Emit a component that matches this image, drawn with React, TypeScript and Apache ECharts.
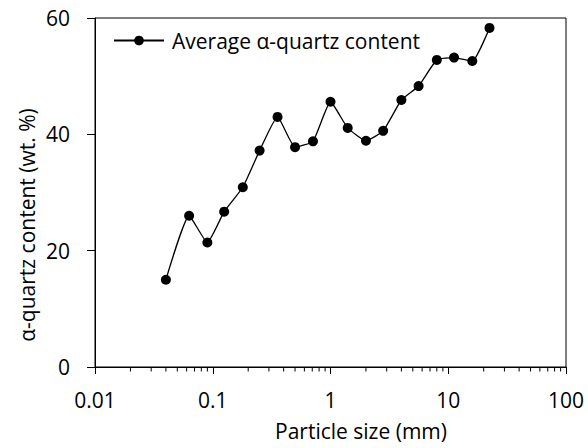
import React, { useEffect, useRef } from "react";
import * as echarts from "echarts";

const sizes = [0.04, 0.063, 0.09, 0.125, 0.18, 0.25, 0.355, 0.5, 0.71, 1, 1.4, 2, 2.8, 4, 5.6, 8, 11.2, 16, 22.4];
const quartz = [15.0, 26.0, 21.4, 26.7, 30.9, 37.2, 43.0, 37.8, 38.8, 45.6, 41.1, 38.9, 40.6, 45.9, 48.3, 52.8, 53.2, 52.6, 58.3];
const xTickValues = [0.01, 0.1, 1, 10, 100];
const xTickLabels = ["0.01", "0.1", "1", "10", "100"];
const minorTickValues = [
  0.02, 0.03, 0.04, 0.05, 0.06, 0.07, 0.08, 0.09,
  0.2, 0.3, 0.4, 0.5, 0.6, 0.7, 0.8, 0.9,
  2, 3, 4, 5, 6, 7, 8, 9,
  20, 30, 40, 50, 60, 70, 80, 90,
];
const seriesName = "Average α-quartz content";
const xName = "Particle size (mm)";
const yName = "α-quartz content (wt. %)";

const FONT = "'Open Sans', sans-serif";
const FS = 21;

export default function App() {
  const ref = useRef<HTMLDivElement>(null);
  useEffect(() => {
    if (!ref.current) return;
    const chart = echarts.init(ref.current, null, { renderer: "svg" });
    chart.setOption({
      animation: false,
      backgroundColor: "#fff",
      textStyle: { fontFamily: FONT },
      grid: {
        left: 95,
        right: 22,
        top: 18,
        bottom: 81,
        show: true,
        borderColor: "#000",
        borderWidth: 1,
        containLabel: false,
      },
      legend: {
        show: true,
        left: 113,
        top: 30,
        padding: 0,
        itemWidth: 50,
        itemHeight: 12,
        itemGap: 0,
        data: [seriesName],
        textStyle: { fontFamily: FONT, fontSize: FS, color: "#000", padding: [0, 0, 0, 3] },
      },
      xAxis: {
        type: "log",
        logBase: 10,
        min: 0.01,
        max: 100,
        axisLine: { show: true, onZero: false, lineStyle: { color: "#000", width: 1 } },
        axisTick: { show: true, inside: false, length: 7, lineStyle: { color: "#000" } },
        minorTick: { show: false },
        splitLine: { show: false },
        axisLabel: {
          fontFamily: FONT,
          fontSize: FS,
          color: "#000",
          margin: 22,
          formatter: (v: number) => {
            const i = xTickValues.findIndex((t) => Math.abs(Math.log10(t) - Math.log10(v)) < 1e-6);
            return i >= 0 ? xTickLabels[i] : "";
          },
        },
      },
      yAxis: {
        type: "value",
        min: 0,
        max: 60,
        interval: 20,
        axisLine: { show: true, lineStyle: { color: "#000", width: 1 } },
        axisTick: { show: true, inside: false, length: 8, lineStyle: { color: "#000" } },
        splitLine: { show: false },
        axisLabel: { fontFamily: FONT, fontSize: FS, color: "#000", margin: 25 },
      },
      graphic: [
        {
          type: "text",
          x: 361,
          y: 431,
          style: { text: xName, fontFamily: FONT, fontSize: FS, fill: "#000", align: "center", verticalAlign: "middle" },
        },
        {
          type: "text",
          x: 27,
          y: 225,
          rotation: Math.PI / 2,
          style: { text: yName, fontFamily: FONT, fontSize: FS, fill: "#000", align: "center", verticalAlign: "middle" },
        },
      ],
      series: [
        {
          name: seriesName,
          type: "line",
          data: sizes.map((s, i) => [s, quartz[i]]),
          smooth: 0.15,
          symbol: "circle",
          symbolSize: 10,
          showSymbol: true,
          lineStyle: { color: "#000", width: 1.3 },
          itemStyle: { color: "#000" },
          z: 3,
        },
        {
          name: "minor",
          type: "custom",
          data: minorTickValues.map((v) => [v, 0]),
          clip: false,
          silent: true,
          renderItem: (params: any, api: any) => {
            const p = api.coord([api.value(0), 0]);
            return {
              type: "line",
              shape: { x1: p[0], y1: p[1], x2: p[0], y2: p[1] + 4.5 },
              style: { stroke: "#000", lineWidth: 1 },
            };
          },
          z: 2,
        },
      ],
    });
    return () => chart.dispose();
  }, []);
  return <div ref={ref} style={{ position: "fixed", left: 0, top: 0, width: 588, height: 448 }} />;
}
